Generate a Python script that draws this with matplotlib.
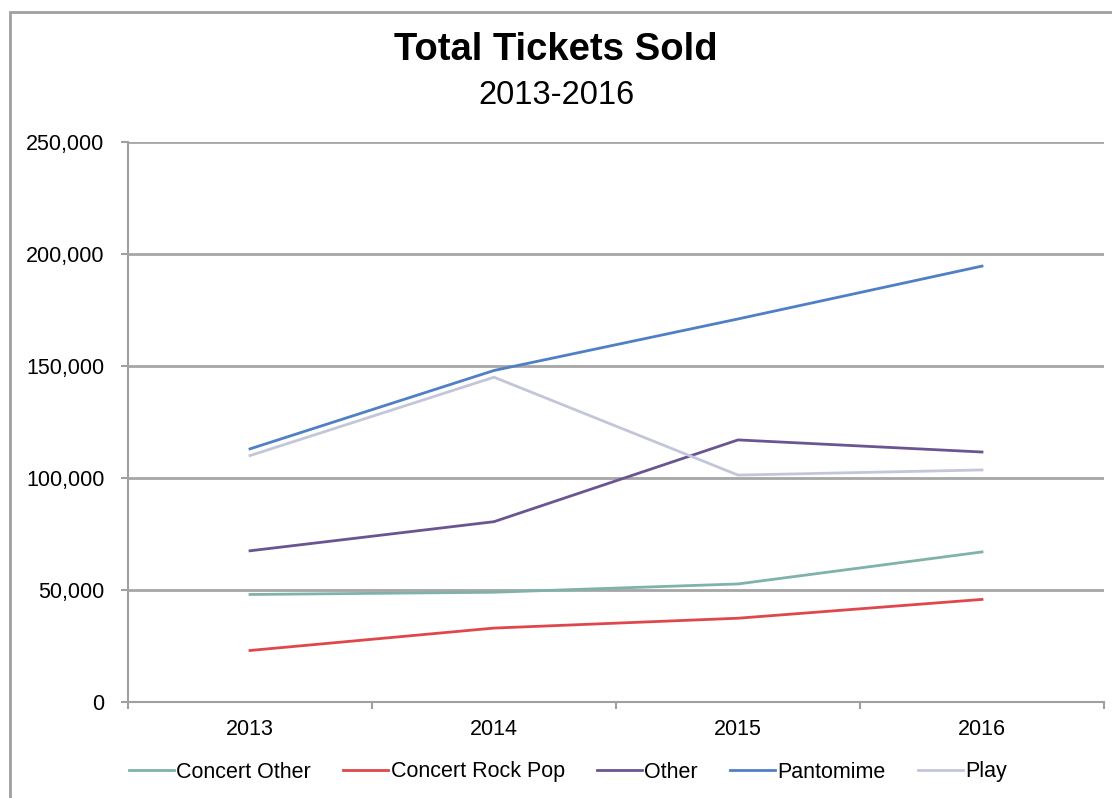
import numpy as np
import matplotlib.pyplot as plt
from matplotlib.ticker import FuncFormatter, FixedLocator

plt.rcParams['font.family'] = ['Liberation Sans', 'DejaVu Sans']

years = ["2013", "2014", "2015", "2016"]
concert_other = [48000, 49000, 52700, 67000]
concert_rock_pop = [23000, 33000, 37400, 45800]
other = [67500, 80500, 117000, 111600]
pantomime = [113000, 148000, 171000, 194600]
play = [110000, 145000, 101300, 103600]

series = [
    ("Concert Other", concert_other, "#7fb2a8"),
    ("Concert Rock Pop", concert_rock_pop, "#e0474c"),
    ("Other", other, "#6a5592"),
    ("Pantomime", pantomime, "#4f7fc4"),
    ("Play", play, "#c3c6d8"),
]

fig = plt.figure(figsize=(11.12, 7.98), dpi=100)
ax = fig.add_axes([128 / 1112, 1 - 702 / 798, (1104 - 128) / 1112, (702 - 142) / 798])

x = np.arange(len(years))
for name, vals, col in series:
    ax.plot(x, vals, color=col, lw=2.0, label=name, solid_joinstyle="round")

ax.set_xlim(-0.5, len(years) - 0.5)
ax.set_ylim(0, 250000)
ax.set_yticks(np.arange(0, 250001, 50000))
ax.yaxis.set_major_formatter(FuncFormatter(lambda v, p: f"{int(v):,}"))
ax.set_xticks(x)
ax.set_xticklabels(years)
ax.xaxis.set_minor_locator(FixedLocator(np.arange(-0.5, len(years), 1.0)))
ax.tick_params(axis="x", which="major", length=0, pad=12, labelsize=15.5)
ax.tick_params(axis="x", which="minor", length=5, width=1.5, color="#a0a0a0")
ax.tick_params(axis="y", length=5, width=1.5, color="#a0a0a0", pad=12, labelsize=15.5)

ax.grid(axis="y", color="#a6a6a6", lw=2)
ax.set_axisbelow(True)
for side in ["top", "right"]:
    ax.spines[side].set_visible(False)
for side in ["left", "bottom"]:
    ax.spines[side].set_color("#a0a0a0")
    ax.spines[side].set_linewidth(1.5)

fig.text(0.5, 1 - 50 / 798, "Total Tickets Sold", ha="center", va="center",
         fontsize=27.5, fontweight="bold")
fig.text(0.5, 1 - 96 / 798, "2013-2016", ha="center", va="center", fontsize=23.5)

fig.legend(loc="center", bbox_to_anchor=(568 / 1112, 1 - 772 / 798), ncol=5, frameon=False,
           fontsize=15.5, handlelength=2.1, handletextpad=0.1, columnspacing=1.5)

# outer chart frame
fig.patches.append(plt.Rectangle((10 / 1112, -0.01), 1.1, 1 - 12 / 798 + 0.01,
                                 transform=fig.transFigure, fill=False,
                                 edgecolor="#a0a0a0", lw=2))

fig.savefig("out.png", dpi=100, facecolor="white")
